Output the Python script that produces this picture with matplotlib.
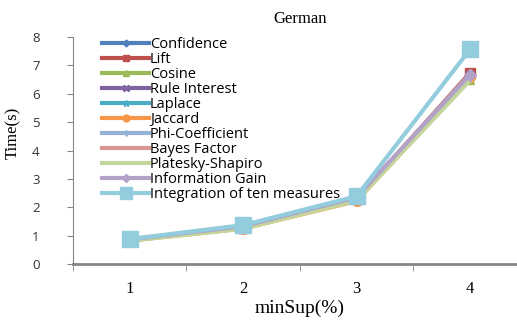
import numpy as np
import matplotlib.pyplot as plt

min_sup = [1, 2, 3, 4]
names = ['Confidence', 'Lift', 'Cosine', 'Rule Interest', 'Laplace', 'Jaccard',
         'Phi-Coefficient', 'Bayes Factor', 'Platesky-Shapiro', 'Information Gain',
         'Integration of ten measures']
confidence = [0.85, 1.30, 2.30, 6.65]
lift = [0.84, 1.28, 2.28, 6.74]
cosine = [0.83, 1.26, 2.25, 6.50]
rule_interest = [0.85, 1.30, 2.31, 6.68]
laplace = [0.85, 1.29, 2.30, 6.62]
jaccard = [0.83, 1.25, 2.22, 6.58]
phi = [0.86, 1.31, 2.32, 6.66]
bayes = [0.85, 1.30, 2.30, 6.70]
platesky = [0.82, 1.24, 2.24, 6.48]
info_gain = [0.87, 1.33, 2.35, 6.68]
integration = [0.88, 1.37, 2.39, 7.57]
series = [confidence, lift, cosine, rule_interest, laplace, jaccard, phi,
          bayes, platesky, info_gain, integration]

colors = ['#4F81BD', '#C0504D', '#9BBB59', '#8064A2', '#4BACC6', '#F79646',
          '#95B3D7', '#D99694', '#C3D69B', '#B3A2C7', '#93CDDD']
markers = ['D', 's', '^', 'x', '*', 'o', '+', '', '', 'D', 's']
sizes = [5, 7, 6, 6, 7, 7, 6, 0, 0, 6, 12]

fig = plt.figure(figsize=(5.17, 3.2), dpi=100)
ax = fig.add_axes([0.141, 0.175, 0.878, 0.709])

for name, vals, c, m, s in zip(names, series, colors, markers, sizes):
    ax.plot(min_sup, vals, color=c, lw=3, marker=m, markersize=s,
            markeredgewidth=2 if m in ('x', '+') else 1, markeredgecolor=c,
            label=name)

ax.set_xlim(0.5, 4.5)
ax.set_ylim(0, 8)
ax.set_xticks(min_sup)
ax.set_xticks([0.5, 1.5, 2.5, 3.5], minor=True)
ax.tick_params(axis='x', which='major', length=0, pad=12)
ax.tick_params(axis='x', which='minor', length=5, color='#868686', direction='out')
ax.tick_params(axis='y', length=4, color='#868686', direction='out', pad=20)
for lab in ax.get_xticklabels():
    lab.set_fontfamily('Liberation Serif')
    lab.set_fontsize(12)
for lab in ax.get_yticklabels():
    lab.set_fontfamily('Open Sans')
    lab.set_fontsize(9.5)
    lab.set_color('#333333')

for sp in ['top', 'right']:
    ax.spines[sp].set_visible(False)
ax.spines['left'].set_color('#868686')
ax.spines['bottom'].set_color('#868686')
ax.spines['bottom'].set_linewidth(2)

ax.set_title('German', fontfamily='Liberation Serif', fontsize=12, pad=10)
ax.set_xlabel('minSup(%)', fontfamily='Liberation Serif', fontsize=14, labelpad=2)
ax.set_ylabel('Time(s)', fontfamily='Liberation Serif', fontsize=12, labelpad=8)
ax.yaxis.set_label_coords(-0.115, 0.58)

leg = ax.legend(loc='upper left', bbox_to_anchor=(0.052, 1.025), frameon=False,
                prop={'family': 'Open Sans', 'size': 10.5}, handlelength=3.2,
                handletextpad=0.05, labelspacing=0.0, borderaxespad=0,
                markerscale=0.7)

fig.savefig('out.png', dpi=100)
